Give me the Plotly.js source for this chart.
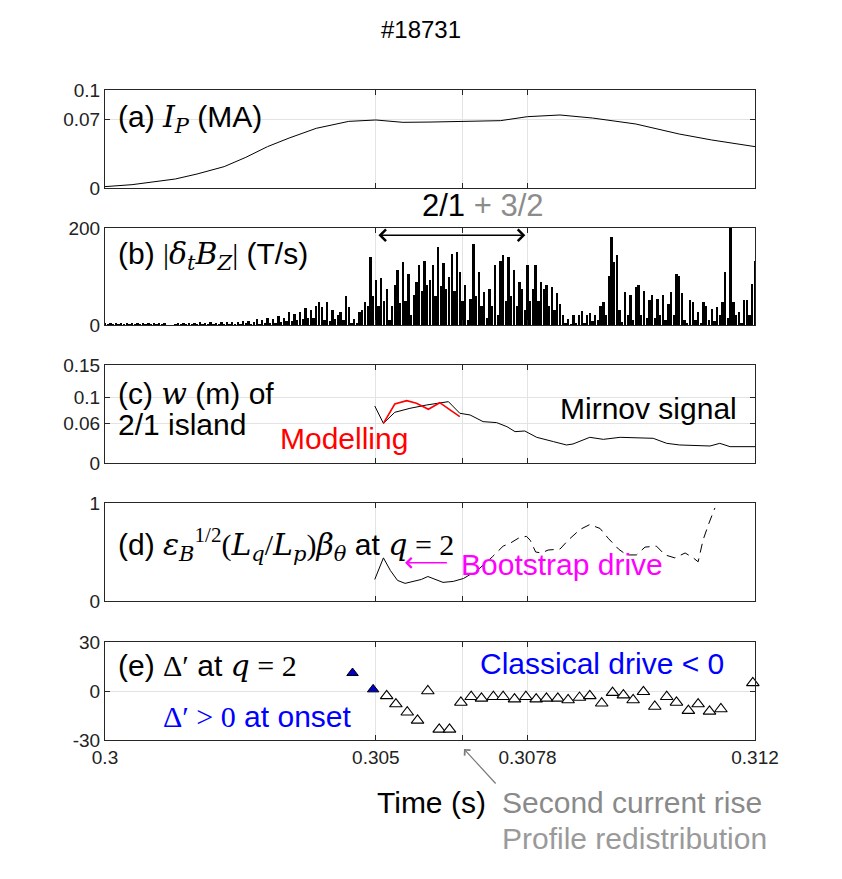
<!DOCTYPE html>
<html>
<head>
<meta charset="utf-8">
<script src="https://cdn.plot.ly/plotly-3.0.1.min.js"></script>
<style>
  html, body { margin: 0; padding: 0; background: #fff; }
  #chart { width: 842px; height: 879px; }
</style>
</head>
<body>
<div id="chart"></div>
<script>
// ---------------- DATA ----------------
// (a) plasma current Ip (MA)
const ipTime = [0.3, 0.3005, 0.3013, 0.3017, 0.3022, 0.3026, 0.3030, 0.3034, 0.3039, 0.3043, 0.3045, 0.3050, 0.3055, 0.3060, 0.3066, 0.3073, 0.3078, 0.3084, 0.3090, 0.3098, 0.3106, 0.3112, 0.312];
const ipValue = [0.0014, 0.0034, 0.0092, 0.0143, 0.0218, 0.0313, 0.0422, 0.051, 0.0609, 0.0653, 0.068, 0.0694, 0.067, 0.0673, 0.068, 0.0687, 0.0728, 0.0745, 0.0714, 0.0653, 0.0551, 0.049, 0.0422];

// (b) |dBz/dt| (T/s), sampled every 0.05 ms from 0.300 s
const bzStart = 0.3;
const bzStep = 0.00005;
const bzValue = [
  4,2,5,2,4,3,5,2,4,2,
  5,2,4,3,5,2,4,2,5,3,
  4,2,5,1,1,1,2,4,2,5,
  3,5,2,4,3,6,2,5,3,6,
  3,5,2,6,3,7,3,6,2,7,
  3,8,4,9,3,7,
  12,3,10,4,14,5,13,4,18,6,15,8,27,8,22,10,27,12,35,14,30,15,40,47,
  37,10,47,8,30,12,20,27,10,60,37,5,13,5,27,30,47,40,
  140,60,92,40,96,50,75,10,40,82,113,45,130,50,106,20,61,89,123,70,
  133,82,92,123,60,161,80,127,75,100,147,70,151,109,50,82,10,54,166,60,
  109,40,68,15,75,40,123,20,133,144,50,140,60,113,40,89,75,30,123,50,
  75,123,50,89,75,
  82,40,78,30,65,44,20,5,13,3,20,5,20,28,5,20,25,8,20,10,
  40,47,20,102,181,130,144,30,6,68,20,61,10,78,82,20,71,15,51,61,
  15,54,20,61,10,44,68,20,106,102,65,10,5,51,47,10,27,5,47,40,
  10,34,8,37,20,47,109,15,260,47,20,27,5,51,51,20,85,133
];
const bzTime = bzValue.map((_, i) => bzStart + i * bzStep);

// (c) island width w (m)
const mirnovTime = [0.30498, 0.30514, 0.30535, 0.30563, 0.30594, 0.30618, 0.30634, 0.30655, 0.30674, 0.30698, 0.30723, 0.30742, 0.30757, 0.30775, 0.30797, 0.30828, 0.30852, 0.30864, 0.30895, 0.3092, 0.30951, 0.31012, 0.31037, 0.31061, 0.31117, 0.31135, 0.31154, 0.312];
const mirnovWidth = [0.0873, 0.0607, 0.0776, 0.0837, 0.0888, 0.0923, 0.0939, 0.0761, 0.0735, 0.0633, 0.0618, 0.0556, 0.048, 0.049, 0.0393, 0.0327, 0.0276, 0.0291, 0.0393, 0.0362, 0.0393, 0.0378, 0.0301, 0.0276, 0.026, 0.0301, 0.025, 0.025];
const modelTime = [0.30514, 0.30535, 0.30557, 0.30575, 0.30597, 0.30618, 0.30637, 0.30655];
const modelWidth = [0.0607, 0.0903, 0.0954, 0.0914, 0.0822, 0.0923, 0.0812, 0.0709];

// (d) bootstrap drive
const bsTime = [0.30498, 0.30505, 0.30514, 0.30527, 0.3054, 0.30554, 0.30569, 0.30584, 0.30596, 0.30609, 0.30624, 0.30643, 0.30662];
const bsValue = [0.22, 0.32, 0.44, 0.31, 0.21, 0.18, 0.20, 0.22, 0.25, 0.22, 0.19, 0.20, 0.23];
const bsDashTime = [0.30662, 0.30689, 0.30715, 0.30735, 0.30748, 0.30763, 0.30778, 0.30785, 0.30795, 0.30806, 0.30818, 0.3084, 0.30855, 0.30877, 0.30895, 0.30914, 0.30929, 0.30948, 0.30963, 0.30981, 0.30997, 0.31018, 0.31034, 0.31052, 0.31071, 0.31086, 0.31095, 0.31104, 0.31114, 0.31126];
const bsDashValue = [0.23, 0.32, 0.45, 0.56, 0.59, 0.64, 0.66, 0.62, 0.50, 0.49, 0.52, 0.53, 0.62, 0.73, 0.78, 0.74, 0.64, 0.53, 0.47, 0.47, 0.55, 0.56, 0.47, 0.44, 0.49, 0.44, 0.40, 0.62, 0.78, 0.95];

// (e) Delta' at q = 2
const onsetTime = [0.30457, 0.30495];
const onsetDelta = [11, 1];
const deltaTime = [0.3052, 0.30537, 0.30558, 0.30577, 0.30596, 0.30617, 0.30636, 0.30657, 0.30676, 0.30695, 0.30717, 0.30735, 0.30756, 0.30777, 0.30796, 0.30815, 0.30836, 0.30855, 0.30876, 0.30895, 0.30917, 0.30937, 0.30957, 0.30975, 0.30994, 0.31015, 0.31037, 0.31055, 0.31077, 0.31095, 0.31116, 0.31137, 0.31196];
const deltaValue = [-3, -8, -13, -18, 0, -23.5, -23.5, -7, -3.5, -4.5, -3.5, -3.5, -5, -3.5, -5, -4.5, -4.5, -5.5, -4, -3, -7.5, -1, -2.5, -5.5, -0.5, -9.5, -3.5, -7, -12, -8, -12.5, -11, 5];

// ticks
const xTickVals = [0.3, 0.305, 0.3066, 0.3078, 0.312];
const xTickText = ['0.3', '0.305', '', '0.3078', '0.312'];
const yaTicks = [0, 0.07, 0.1], yaText = ['0', '0.07', '0.1'];
const ybTicks = [0, 200], ybText = ['0', '200'];
const ycTicks = [0, 0.06, 0.1, 0.15], ycText = ['0', '0.06', '0.1', '0.15'];
const ydTicks = [0, 1], ydText = ['0', '1'];
const yeTicks = [-30, 0, 30], yeText = ['-30', '0', '30'];

// ---------------- STYLE ----------------
const SANS = 'Liberation Sans, Arial, sans-serif';
const M = (s) => '<span style="font-family:DejaVu Serif"><i>' + s + '</i></span>';
const MR = (s) => '<span style="font-family:Liberation Serif">' + s + '</span>';
const AX = '#262626', GRID = '#e3e3e3';
const TXT = 30, TICK = 19;

const traces = [
  { x: ipTime, y: ipValue, xaxis: 'x', yaxis: 'y', mode: 'lines', line: { color: '#000', width: 1 } },
  { x: bzTime, y: bzValue, xaxis: 'x2', yaxis: 'y2', type: 'bar', width: bzStep * 0.86,
    marker: { color: '#000', line: { width: 0 } } },
  { x: mirnovTime, y: mirnovWidth, xaxis: 'x3', yaxis: 'y3', mode: 'lines', line: { color: '#000', width: 1 } },
  { x: modelTime, y: modelWidth, xaxis: 'x3', yaxis: 'y3', mode: 'lines', line: { color: '#ff0000', width: 1.6 } },
  { x: bsTime, y: bsValue, xaxis: 'x4', yaxis: 'y4', mode: 'lines', line: { color: '#000', width: 1 } },
  { x: bsDashTime, y: bsDashValue, xaxis: 'x4', yaxis: 'y4', mode: 'lines', line: { color: '#000', width: 1, dash: '9px,6px' } },
  { x: deltaTime, y: deltaValue, xaxis: 'x5', yaxis: 'y5', mode: 'markers', cliponaxis: false,
    marker: { symbol: 'triangle-up', size: 11, color: '#fff', line: { color: '#000', width: 1.1 } } },
  { x: onsetTime, y: onsetDelta, xaxis: 'x5', yaxis: 'y5', mode: 'markers', cliponaxis: false,
    marker: { symbol: 'triangle-up', size: 10, color: '#0000c8', line: { color: '#000', width: 1 } } }
];

const px = (p) => (p - 105) / 650;
const py = (p) => (740 - p) / 650;

function xAx(anchor, showLabels) {
  return {
    anchor: anchor, range: [0.3, 0.312], tickmode: 'array', tickvals: xTickVals, ticktext: xTickText,
    showticklabels: showLabels, ticks: 'inside', ticklen: 5, tickcolor: AX, showline: true, linecolor: AX,
    linewidth: 1, mirror: 'ticks', showgrid: true, gridcolor: GRID, gridwidth: 1, zeroline: false,
    tickfont: { family: SANS, size: TICK, color: '#222' }, fixedrange: true
  };
}
function yAx(anchor, dom, range, vals, text, grid) {
  return {
    anchor: anchor, domain: dom, range: range, tickmode: 'array', tickvals: vals, ticktext: text,
    ticks: 'inside', ticklen: 5, tickcolor: AX, showline: true, linecolor: AX, linewidth: 1, mirror: 'ticks',
    showgrid: grid, gridcolor: GRID, gridwidth: 1, zeroline: false,
    tickfont: { family: SANS, size: TICK, color: '#222' }, fixedrange: true
  };
}

function lab(text, x, y, color, size, xanchor) {
  return { xref: 'paper', yref: 'paper', x: x, y: y, text: text, showarrow: false,
    xanchor: xanchor || 'left', yanchor: 'middle',
    font: { family: SANS, size: size || TXT, color: color || '#000' } };
}

const annotations = [
  lab('(a) ' + M('I') + '<sub>' + M('P') + '</sub> (MA)', px(116), py(118)),
  lab('2/1 <span style="color:#8c8c8c">+ 3/2</span>', px(483), py(205), '#000', 31, 'center'),
  lab('(b) ' + MR('|') + M('δ') + '<sub>' + M('t') + '</sub>' + M('B') + '<sub>' + M('Z') + '</sub>' + MR('|') + ' (T/s)', px(116), py(255)),
  lab('(c) ' + M('w') + ' (m) of', px(116), py(393)),
  lab('2/1 island', px(116), py(425)),
  lab('Modelling', px(278), py(438), '#ff0000'),
  lab('Mirnov signal', px(558), py(408)),
  lab('(d) ' + M('ε') + '<sub>' + M('B') + '</sub><sup>' + MR('1/2') + '</sup>' + MR('(') + M('L') + '<sub>' + M('q') + '</sub>' + MR('/') + M('L') + '<sub>' + M('p') + '</sub>' + MR(')') + M('β') + '<sub>' + M('θ') + '</sub> at ' + M('q') + MR(' = 2'), px(116), py(544)),
  lab('Bootstrap drive', px(459), py(564), '#ff00ff'),
  lab('(e) ' + MR('Δ′') + ' at ' + M('q') + MR(' = 2'), px(116), py(665)),
  lab(MR('Δ′ &gt; 0') + ' at onset', px(161), py(716), '#0000ff'),
  lab('Classical drive &lt; 0', px(478), py(663), '#0000ff'),
  lab('Time (s)', px(375), py(802)),
  lab('Second current rise', px(500), py(802), '#8a8a8a'),
  lab('Profile redistribution', px(500), py(838), '#9a9a9a'),
  // double arrow for 2/1 + 3/2 mode period
  { xref: 'x2', yref: 'y2', axref: 'x2', ayref: 'y2', x: 0.30776, y: 185, ax: 0.30502, ay: 185, text: '',
    showarrow: true, arrowside: 'end+start', arrowhead: 4, startarrowhead: 4, arrowsize: 1.4, startarrowsize: 1.4,
    arrowwidth: 1.6, arrowcolor: '#000', standoff: 0, startstandoff: 0 },
  // bootstrap arrow
  { xref: 'x4', yref: 'y4', axref: 'x4', ayref: 'y4', x: 0.30554, y: 0.39, ax: 0.30634, ay: 0.39, text: '',
    showarrow: true, arrowhead: 4, arrowsize: 1.4, arrowwidth: 1.4, arrowcolor: '#ff00ff', standoff: 0 },
  // second current rise arrow
  { xref: 'paper', yref: 'paper', x: px(464), y: py(749), ax: 33, ay: 36, axref: 'pixel', ayref: 'pixel', text: '',
    showarrow: true, arrowhead: 4, arrowsize: 1.3, arrowwidth: 1.2, arrowcolor: '#7a7a7a', standoff: 0 }
];

const layout = {
  width: 842, height: 879,
  margin: { l: 105, r: 87, t: 90, b: 139 },
  paper_bgcolor: '#fff', plot_bgcolor: '#fff',
  showlegend: false, bargap: 0,
  font: { family: SANS, color: '#000' },
  title: { text: '#18731', x: 0.5, xanchor: 'center', y: 1 - 30 / 879, yanchor: 'middle', xref: 'container', yref: 'container',
    font: { family: SANS, size: 24, color: '#000' } },
  xaxis: xAx('y', false),
  xaxis2: xAx('y2', false),
  xaxis3: xAx('y3', false),
  xaxis4: xAx('y4', false),
  xaxis5: xAx('y5', true),
  yaxis: yAx('x', [py(188), 1], [0, 0.1], yaTicks, yaText, true),
  yaxis2: yAx('x2', [py(325), py(228)], [0, 200], ybTicks, ybText, false),
  yaxis3: yAx('x3', [py(463), py(365)], [0, 0.15], ycTicks, ycText, true),
  yaxis4: yAx('x4', [py(601), py(503)], [0, 1], ydTicks, ydText, false),
  yaxis5: yAx('x5', [0, py(642)], [-30, 30], yeTicks, yeText, true),
  annotations: annotations
};

Plotly.newPlot('chart', traces, layout, { staticPlot: true, displayModeBar: false });
</script>
</body>
</html>
